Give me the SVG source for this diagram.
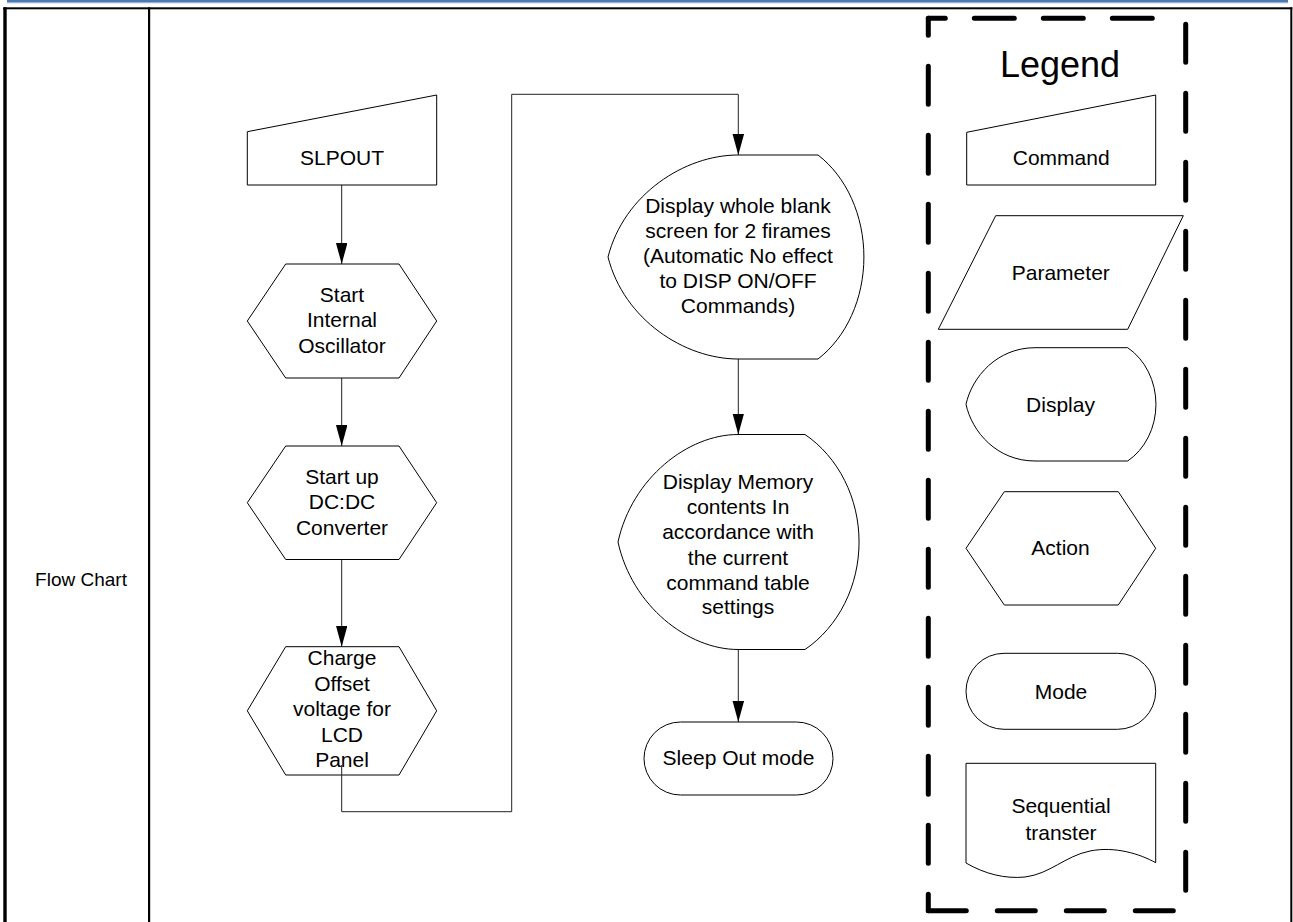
<svg xmlns="http://www.w3.org/2000/svg" width="1293" height="922" viewBox="0 0 1293 922">
<style>
.shape{fill:#fff;stroke:#000;stroke-width:1}
.conn{fill:none;stroke:#222;stroke-width:1}
.t{font-family:"Liberation Sans",Arial,sans-serif;font-size:21px;fill:#000;text-anchor:middle}
.dash{fill:none;stroke:#000;stroke-width:5;stroke-linecap:round}
</style>
<defs>
<marker id="arr" markerUnits="userSpaceOnUse" markerWidth="22" markerHeight="12" refX="21" refY="5.75" orient="auto">
<path d="M0,0 L21,5.75 L0,11.5 Z" fill="#000"/>
</marker>
</defs>
<rect width="1293" height="922" fill="#fff"/>
<g id="frame">
<rect x="7" y="0" width="1281" height="2.7" fill="#4a7ab0"/>
<rect x="7" y="2.7" width="1281" height="0.8" fill="#c9d6e6"/>
<rect x="3.3" y="7.3" width="3.4" height="915" fill="#000"/>
<rect x="3.3" y="7.3" width="1289" height="2" fill="#000"/>
<rect x="148" y="7.3" width="2.2" height="915" fill="#000"/>
<rect x="1290.3" y="7.3" width="2" height="915" fill="#000"/>
<text class="t" x="81" y="586" style="font-size:19px">Flow Chart</text>
</g>
<g id="connectors">
<line class="conn" x1="341.7" y1="185" x2="341.7" y2="264" marker-end="url(#arr)"/>
<line class="conn" x1="341.7" y1="378" x2="341.7" y2="446" marker-end="url(#arr)"/>
<line class="conn" x1="341.7" y1="559.5" x2="341.7" y2="646.7" marker-end="url(#arr)"/>
<line class="conn" x1="738.3" y1="359" x2="738.3" y2="434.5" marker-end="url(#arr)"/>
<line class="conn" x1="738.3" y1="649.5" x2="738.3" y2="722" marker-end="url(#arr)"/>
</g>
<g id="slpout">
<polygon class="shape" points="247.3,131.7 436.7,95 436.7,185 247.3,185"/>
<text class="t" x="342" y="165">SLPOUT</text>
</g>
<g id="osc">
<polygon class="shape" points="285.7,264 399,264 436.7,321 399,378 285.7,378 247.3,321"/>
<text class="t" x="342"><tspan x="342" y="301.5">Start</tspan><tspan x="342" y="327">Internal</tspan><tspan x="342" y="352.5">Oscillator</tspan></text>
</g>
<g id="dcdc">
<polygon class="shape" points="285.7,446 399,446 436.7,502.7 399,559.5 285.7,559.5 247.3,502.7"/>
<text class="t" x="342"><tspan x="342" y="483.5">Start up</tspan><tspan x="342" y="509">DC:DC</tspan><tspan x="342" y="534.5">Converter</tspan></text>
</g>
<g id="charge">
<polygon class="shape" points="285.7,646.7 399,646.7 436.7,710.8 399,775 285.7,775 247.3,710.8"/>
<text class="t" x="342"><tspan x="342" y="665">Charge</tspan><tspan x="342" y="690.5">Offset</tspan><tspan x="342" y="716">voltage for</tspan><tspan x="342" y="741.5">LCD</tspan><tspan x="342" y="767">Panel</tspan></text>
</g>
<g id="connector-long">
<path class="conn" d="M341.7,765 V811.7 H511.7 V94.3 H738.3 V155" marker-end="url(#arr)"/>
</g>
<g id="blank">
<path class="shape" d="M738,155 H818 A97 120 0 0 1 818,359 H738 C685,359 624,320 608,257 C624,194 685,155 738,155 Z"/>
<text class="t" x="738"><tspan x="738" y="213">Display whole blank</tspan><tspan x="738" y="238">screen for 2 firames</tspan><tspan x="738" y="263">(Automatic No effect</tspan><tspan x="738" y="288">to DISP ON/OFF</tspan><tspan x="738" y="313">Commands)</tspan></text>
</g>
<g id="memory">
<path class="shape" d="M738,434.5 H805 A113 126 0 0 1 805,649.5 H738 C688,649.5 632,606 618,542 C632,478 688,434.5 738,434.5 Z"/>
<text class="t" x="738"><tspan x="738" y="488.5">Display Memory</tspan><tspan x="738" y="513.5">contents In</tspan><tspan x="738" y="539">accordance with</tspan><tspan x="738" y="564.5">the current</tspan><tspan x="738" y="590">command table</tspan><tspan x="738" y="614">settings</tspan></text>
</g>
<g id="sleepout">
<rect class="shape" x="644" y="722" width="189" height="73" rx="36.5" ry="36.5"/>
<text class="t" x="738.5" y="765">Sleep Out mode</text>
</g>
<g id="legend">
<line class="dash" x1="928.3" y1="18.3" x2="928.3" y2="910.7" stroke-dasharray="38 31" stroke-dashoffset="21"/>
<line class="dash" x1="928.3" y1="18.3" x2="1162" y2="18.3" stroke-dasharray="40 29" stroke-dashoffset="23"/>
<line class="dash" x1="928.3" y1="910.7" x2="1180" y2="910.7" stroke-dasharray="38 31"/>
<line class="dash" x1="1185.7" y1="24.2" x2="1185.7" y2="890.7" stroke-dasharray="38 31"/>
<text class="t" x="1060" y="77" style="font-size:36px">Legend</text>
</g>
<g id="lg-command">
<polygon class="shape" points="966.7,132.3 1155.7,95 1155.7,185 966.7,185"/>
<text class="t" x="1061.2" y="165">Command</text>
</g>
<g id="lg-parameter">
<polygon class="shape" points="995.7,215.7 1183.3,215.7 1127.7,329.3 938.3,329.3"/>
<text class="t" x="1060.8" y="280">Parameter</text>
</g>
<g id="lg-display">
<path class="shape" d="M1035,347.7 H1127.7 A58 66 0 0 1 1127.7,461 H1035 C997,461 972,432 966,404.3 C972,377 997,347.7 1035,347.7 Z"/>
<text class="t" x="1060.5" y="411.7">Display</text>
</g>
<g id="lg-action">
<polygon class="shape" points="1004.3,491.7 1118.3,491.7 1155.7,548.3 1118.3,605 1004.3,605 966,548.3"/>
<text class="t" x="1060.5" y="555">Action</text>
</g>
<g id="lg-mode">
<rect class="shape" x="966" y="653.3" width="189.7" height="76" rx="38" ry="38"/>
<text class="t" x="1061" y="699">Mode</text>
</g>
<g id="lg-sequential">
<path class="shape" d="M966,763.3 H1155.7 V862.7 C1140,854 1115,846 1090,851 C1065,856 1050,874 1025,877 C1005,879 985,874 966,863 Z"/>
<text class="t" x="1061"><tspan x="1061" y="813.3">Sequential</tspan><tspan x="1061" y="840">transter</tspan></text>
</g>
</svg>
